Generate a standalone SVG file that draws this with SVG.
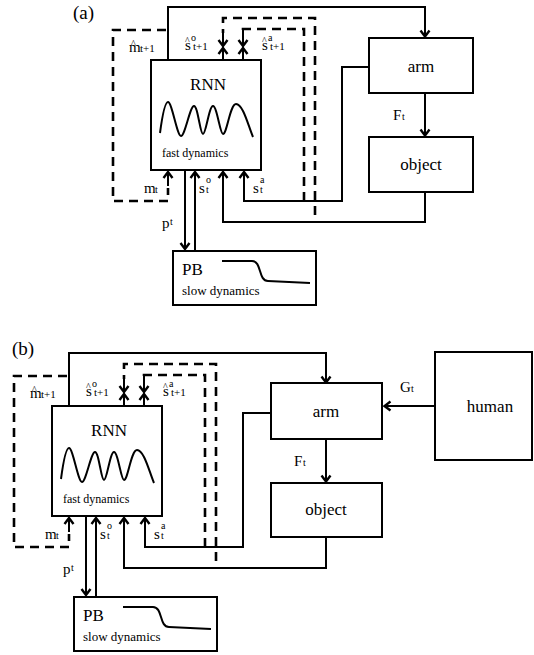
<svg xmlns="http://www.w3.org/2000/svg" width="534" height="655" viewBox="0 0 534 655" font-family="'Liberation Serif', 'DejaVu Serif', serif">
<style>
.box{fill:#fff;stroke:#000;stroke-width:2}
.ln{fill:none;stroke:#000;stroke-width:2}
.dash{fill:none;stroke:#000;stroke-width:2.6;stroke-dasharray:9,6}
.wave{fill:none;stroke:#000;stroke-width:2}
text{font-family:'Liberation Serif','DejaVu Serif',serif;fill:#000}
.big{font-size:17px}
.lab{font-size:15px}
.sub{font-size:10px}
.sub11{font-size:11px}
.hat{font-size:10px}
.fast{font-size:12px}
.slow{font-size:13px}
.panel{font-size:19px}
</style>
<defs>
<marker id="ah" markerUnits="userSpaceOnUse" viewBox="-10 -6 12 12" refX="0" refY="0" markerWidth="12" markerHeight="12" orient="auto">
<path d="M-6,-4.5 L0,0 L-6,4.5" fill="none" stroke="#000" stroke-width="2.4"/>
</marker>
<g id="rnnShape">
<rect class="box" x="151" y="60" width="110" height="110"/>
<text class="big" x="208" y="90" text-anchor="middle">RNN</text>
<path class="wave" d="M160,133 C162,118 165,102 168,102 C172,102 177,136 181,136 C185,136 190,106 194,106 C198,106 200,134 203,134 C206,134 209,106 213,106 C217,106 220,134 223,134 C227,134 230,104 236,104 C243,104 248,125 253,137"/>
<text class="fast" x="162" y="157">fast dynamics</text>
</g>
<g id="pbShape">
<rect class="box" x="173" y="251" width="143" height="54"/>
<text class="big" x="182" y="275">PB</text>
<path class="wave" d="M222,261 L252,261 C262,261 258,281 268,281 L310,283"/>
<text class="slow" x="182" y="295">slow dynamics</text>
</g>
<g id="connShape">
<path class="ln" d="M168,60 V7 H425 V36.5" marker-end="url(#ah)"/>
<path class="ln" d="M425,93 V135.5" marker-end="url(#ah)"/>
<path class="ln" d="M369,67 H342 V201 H244 V172" marker-end="url(#ah)"/>
<path class="ln" d="M425,192 V222 H223 V172" marker-end="url(#ah)"/>
<path class="ln" d="M185,171 V249" marker-end="url(#ah)"/>
<path class="ln" d="M195,250 V172" marker-end="url(#ah)"/>
<path class="ln" d="M168,186 V172" marker-end="url(#ah)"/>
<path class="ln" d="M223,59 V48" marker-end="url(#ah)"/>
<path class="ln" d="M243,59 V48" marker-end="url(#ah)"/>
<path class="ln" d="M223,32 V46" marker-end="url(#ah)"/>
<path class="ln" d="M243,29 V46" marker-end="url(#ah)"/>
<path class="dash" d="M166,30 H113 V201 H168 V188"/>
<path class="dash" d="M315,215 V18 H223 V33"/>
<path class="dash" d="M304,201 V29 H243 V31"/>
</g>
<g id="labelShape">
<text class="lab" x="129" y="52">m</text>
<text class="hat" x="131" y="47">^</text>
<text class="sub11" x="140" y="52">t+1</text>
<text class="lab" x="185" y="50">s</text>
<text class="hat" x="185" y="44">^</text>
<text class="sub" x="191" y="41">o</text>
<text class="sub11" x="193" y="50">t+1</text>
<text class="lab" x="262" y="50">s</text>
<text class="hat" x="262" y="44">^</text>
<text class="sub" x="268" y="41">a</text>
<text class="sub11" x="270" y="50">t+1</text>
<text class="lab" x="144" y="193">m</text>
<text class="sub" x="155" y="193">t</text>
<text class="lab" x="199" y="193">s</text>
<text class="sub" x="206" y="193">t</text>
<text class="sub" x="206" y="183">o</text>
<text class="lab" x="253" y="193">s</text>
<text class="sub" x="260" y="193">t</text>
<text class="sub" x="260" y="183">a</text>
<text class="lab" x="162" y="228">p</text>
<text class="sub" x="170" y="225">t</text>
<text class="lab" x="393" y="120">F</text>
<text class="sub" x="402" y="120">t</text>
</g>
</defs>

<text class="panel" x="73" y="19">(a)</text>
<g id="connectors-a"><use href="#connShape"/></g>
<g id="rnn-a"><use href="#rnnShape"/></g>
<g id="pb-a"><use href="#pbShape"/></g>
<g id="arm-a">
<rect class="box" x="369" y="38" width="104" height="55"/>
<text class="big" x="421" y="72" text-anchor="middle">arm</text>
</g>
<g id="object-a">
<rect class="box" x="369" y="137" width="104" height="55"/>
<text class="big" x="421" y="170" text-anchor="middle">object</text>
</g>
<g id="labels-a"><use href="#labelShape"/></g>

<text class="panel" x="12" y="355">(b)</text>
<g id="connectors-b">
<use href="#connShape" transform="translate(-99,346)"/>
<path class="ln" d="M435,406 H384.5" marker-end="url(#ah)"/>
</g>
<g id="rnn-b"><use href="#rnnShape" transform="translate(-99,346)"/></g>
<g id="pb-b"><use href="#pbShape" transform="translate(-99,346)"/></g>
<g id="arm-b">
<rect class="box" x="271" y="383" width="111" height="56"/>
<text class="big" x="326" y="417" text-anchor="middle">arm</text>
</g>
<g id="object-b">
<rect class="box" x="271" y="483" width="111" height="54"/>
<text class="big" x="326" y="515" text-anchor="middle">object</text>
</g>
<g id="human-b">
<rect class="box" x="435" y="352" width="97" height="108"/>
<text class="big" x="490" y="412" text-anchor="middle">human</text>
</g>
<g id="labels-b">
<use href="#labelShape" transform="translate(-99,346)"/>
<text class="lab" x="400" y="392">G</text>
<text class="sub" x="411" y="392">t</text>
</g>
</svg>
